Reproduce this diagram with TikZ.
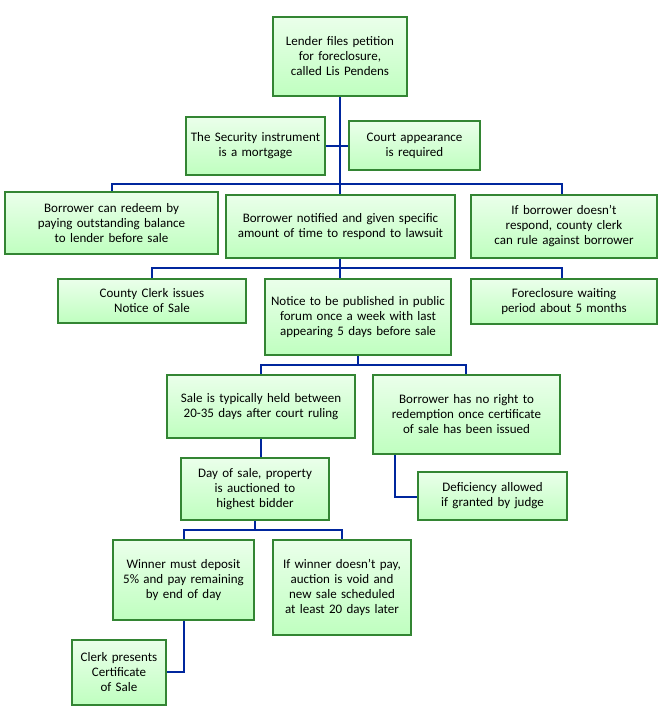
\documentclass[tikz,border=0pt]{standalone}
\usepackage{fontspec}
\setmainfont{Carlito}
\hyphenpenalty=10000
\exhyphenpenalty=10000
\begin{document}
\begin{tikzpicture}[x=1pt,y=-1pt,
  bx/.style={draw=green!40!black!80, line width=1.6pt, top color=green!8!white, bottom color=green!25!white, align=center, inner sep=1pt, font=\fontsize{13}{15}\selectfont},
  ln/.style={draw=blue!55!black!85!cyan, line width=2.2pt}]
\useasboundingbox (0,0) rectangle (667,725);
\newcommand\bx[6]{\node[bx, minimum width=#4-#2, minimum height=#5-#3, text width=#4-#2-8] (#1) at ({(#2+#4)/2},{(#3+#5)/2}) {#6};}
\draw[ln] (340,96) -- (340,184);
\draw[ln] (325,146) -- (349,146);
\draw[ln] (112,192) |- (562,184) -- (562,195);
\draw[ln] (340,184) -- (340,195);
\draw[ln] (340,258) -- (340,268);
\draw[ln] (152,279) |- (562,268) -- (562,279);
\draw[ln] (340,268) -- (340,279);
\draw[ln] (358,355) -- (358,365);
\draw[ln] (261,375) |- (466,365) -- (466,375);
\draw[ln] (261,438) -- (261,458);
\draw[ln] (395,454) |- (418,497);
\draw[ln] (255,520) -- (255,530);
\draw[ln] (184,540) |- (342,530) -- (342,540);
\draw[ln] (184,620) |- (166,672);
\bx{a}{273}{17}{407}{96}{Lender files petition for foreclosure, called Lis Pendens}
\bx{b}{186}{117}{325}{175}{The Security instrument is a mortgage}
\bx{c}{349}{121}{480}{170}{Court appearance is required}
\bx{d}{5}{192}{218}{254}{Borrower can redeem by paying outstanding balance to lender before sale}
\bx{e}{226}{195}{455}{258}{Borrower notified and given specific amount of time to respond to lawsuit}
\bx{f}{471}{195}{657}{258}{If borrower doesn't respond, county clerk can rule against borrower}
\bx{g}{58}{279}{246}{323}{County Clerk issues Notice of Sale}
\bx{h}{265}{279}{451}{355}{Notice to be published in public forum once a week with last appearing 5 days before sale}
\bx{i}{471}{279}{657}{324}{Foreclosure waiting period about 5 months}
\bx{j}{167}{375}{355}{438}{Sale is typically held between 20-35 days after court ruling}
\bx{k}{373}{375}{560}{454}{Borrower has no right to redemption once certificate of sale has been issued}
\bx{l}{181}{458}{329}{520}{Day of sale, property is auctioned to highest bidder}
\bx{m}{418}{472}{567}{520}{Deficiency allowed if granted by judge}
\bx{n}{113}{540}{254}{620}{Winner must deposit 5\% and pay remaining by end of day}
\bx{o}{273}{540}{411}{635}{If winner doesn't pay, auction is void and new sale scheduled at least 20 days later}
\bx{p}{72}{640}{166}{705}{Clerk presents Certificate of Sale}
\end{tikzpicture}
\end{document}
